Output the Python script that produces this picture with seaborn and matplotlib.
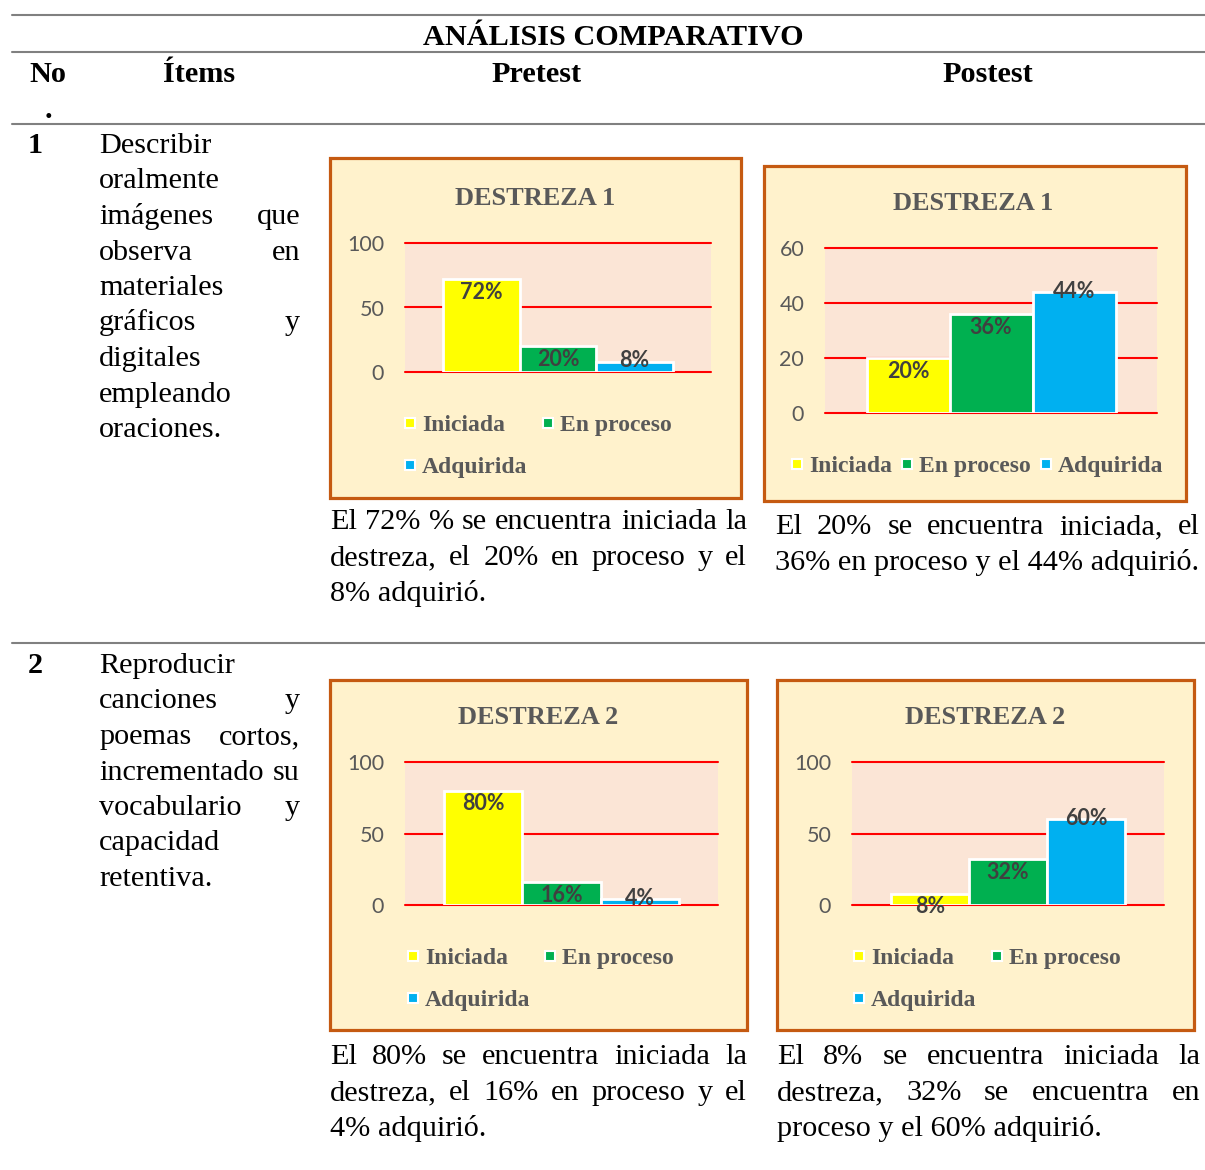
import numpy as np
import pandas as pd
import seaborn as sns
import matplotlib.pyplot as plt
from matplotlib.lines import Line2D
from matplotlib.patches import Rectangle

# --- data ---
niveles = ["Iniciada", "En proceso", "Adquirida"]
colores = ["#FFFF00", "#00B050", "#00B0F0"]

pre_d1 = [72, 20, 8]
post_d1 = [20, 36, 44]
pre_d2 = [80, 16, 4]
post_d2 = [8, 32, 60]

ticks_100 = [0, 50, 100]
ticks_60 = [0, 20, 40, 60]

item1 = ["Describir", "oralmente", "imágenes que", "observa en", "materiales",
         "gráficos y", "digitales", "empleando", "oraciones."]
item2 = ["Reproducir", "canciones y", "poemas cortos,", "incrementado su",
         "vocabulario y", "capacidad", "retentiva."]

txt_pre1 = ["El 72%  % se encuentra iniciada la", "destreza, el 20% en proceso y el", "8% adquirió."]
txt_post1 = ["El 20% se encuentra iniciada, el", "36% en proceso y el 44% adquirió."]
txt_pre2 = ["El 80% se encuentra iniciada la", "destreza, el 16% en proceso y el", "4% adquirió."]
txt_post2 = ["El 8% se encuentra iniciada la", "destreza, 32% se encuentra en", "proceso y el 60% adquirió."]

W, H = 1205, 1170
SERIF = "Liberation Serif"
SANS = "Lato"
BODY = 21.8

sns.set_theme(style="white")
plt.rcParams["font.family"] = [SERIF, "DejaVu Sans"]

fig = plt.figure(figsize=(W / 100, H / 100), dpi=100)
fig.patch.set_facecolor("white")
rend = fig.canvas.get_renderer()


def fx(x):
    return x / W


def fy(y):
    return 1 - y / H


def put_line(text, x0, x1, base, justify, size=BODY, weight="normal"):
    words = text.split()
    if not justify or len(words) == 1:
        fig.text(fx(x0), fy(base), text, ha="left", va="baseline",
                 fontsize=size, family=SERIF, weight=weight, color="black")
        return
    objs = [fig.text(0, fy(base), w, ha="left", va="baseline", fontsize=size,
                     family=SERIF, weight=weight, color="black") for w in words]
    widths = [o.get_window_extent(renderer=rend).width for o in objs]
    gap = (x1 - x0 - sum(widths)) / (len(words) - 1)
    x = x0
    for o, w in zip(objs, widths):
        o.set_x(fx(x))
        x += w + gap


def paragraph(lines, x0, x1, base0, step):
    for i, ln in enumerate(lines):
        put_line(ln, x0, x1, base0 + i * step, justify=(i < len(lines) - 1))


# --- table rules ---
for yy in [15, 51.5, 124, 643]:
    fig.add_artist(Line2D([fx(12), fx(1205)], [fy(yy), fy(yy)], color="#808080", lw=1.5))

# --- header ---
hdr = dict(va="baseline", fontsize=BODY, family=SERIF, weight="bold", color="black")
fig.text(fx(613), fy(45), "ANÁLISIS COMPARATIVO", ha="center", **hdr)
fig.text(fx(29), fy(82), "No", ha="left", **hdr)
fig.text(fx(48), fy(117.5), ".", ha="center", **hdr)
fig.text(fx(199), fy(82), "Ítems", ha="center", **hdr)
fig.text(fx(536.5), fy(82), "Pretest", ha="center", **hdr)
fig.text(fx(987.5), fy(82), "Postest", ha="center", **hdr)
fig.text(fx(28), fy(153), "1", ha="left", **hdr)
fig.text(fx(28), fy(673), "2", ha="left", **hdr)

paragraph(item1, 99, 300, 153, 35.5)
paragraph(item2, 99, 300, 673, 35.5)

# --- charts ---
charts = [
    dict(vals=pre_d1, ticks=ticks_100, frame=(328, 157, 742, 499), plot=(405, 243, 711, 372),
         title="DESTREZA 1", tpos=(535, 205),
         leg=[(410, 431), (548, 431), (410, 473)],
         text=txt_pre1, tbox=(330, 747, 529)),
    dict(vals=post_d1, ticks=ticks_60, frame=(762, 164, 1187, 502), plot=(825, 248, 1157, 413),
         title="DESTREZA 1", tpos=(973, 210),
         leg=[(797, 472), (907, 472), (1046, 472)],
         text=txt_post1, tbox=(775, 1200, 534)),
    dict(vals=pre_d2, ticks=ticks_100, frame=(328, 678, 748, 1031), plot=(405, 762, 718, 905),
         title="DESTREZA 2", tpos=(538, 724),
         leg=[(413, 964), (550, 964), (413, 1006)],
         text=txt_pre2, tbox=(330, 747, 1064)),
    dict(vals=post_d2, ticks=ticks_100, frame=(775, 678, 1195, 1031), plot=(852, 762, 1164, 905),
         title="DESTREZA 2", tpos=(985, 724),
         leg=[(859, 964), (997, 964), (859, 1006)],
         text=txt_post2, tbox=(777, 1200, 1064)),
]

for c in charts:
    x0, y0, x1, y1 = c["frame"]
    fig.add_artist(Rectangle((fx(x0 + 1.5), fy(y1 - 1.5)), (x1 - x0 - 3) / W, (y1 - y0 - 3) / H,
                             transform=fig.transFigure, facecolor="#FFF2CC",
                             edgecolor="#C55A11", lw=2.3, zorder=0))

    px0, py0, px1, py1 = c["plot"]
    ax = fig.add_axes([fx(px0), fy(py1), (px1 - px0) / W, (py1 - py0) / H])
    ax.set_facecolor("#FBE5D6")

    df = pd.DataFrame({"grupo": ["D"] * 3, "nivel": niveles, "valor": c["vals"]})
    sns.barplot(data=df, x="grupo", y="valor", hue="nivel", hue_order=niveles,
                palette=colores, saturation=1, width=0.75, gap=0,
                edgecolor="white", linewidth=2, legend=False, ax=ax, zorder=3)

    ax.set_xlim(-0.5, 0.5)
    ax.set_ylim(0, c["ticks"][-1])
    ax.set_yticks(c["ticks"])
    ax.set_xticks([])
    ax.set_xlabel("")
    ax.set_ylabel("")
    ax.grid(axis="y", color="#FF0000", lw=1.5)
    ax.set_axisbelow(True)
    for gl in ax.get_ygridlines():
        gl.set_clip_on(False)
    for s in ax.spines.values():
        s.set_visible(False)
    ax.tick_params(axis="y", length=0, pad=15, labelsize=15.5, labelcolor="#595959")
    for lab in ax.get_yticklabels():
        lab.set_family(SANS)

    for i, cont in enumerate(ax.containers):
        ax.bar_label(cont, labels=[f"{v}%" for v in cont.datavalues.astype(int)],
                     padding=(-7 if i == 2 else -17), fontsize=15.5, fontweight="bold",
                     family=SANS, color="#404040", zorder=5)

    tx, ty = c["tpos"]
    fig.text(fx(tx), fy(ty), c["title"], ha="center", va="baseline", fontsize=19,
             family=SERIF, weight="bold", color="#595959")

    for (mx, my), name, col in zip(c["leg"], niveles, colores):
        fig.add_artist(Line2D([fx(mx)], [fy(my - 8)], marker="s", ms=7.5, color=col,
                              mec="white", mew=1.5, transform=fig.transFigure))
        fig.text(fx(mx + 12), fy(my), name, ha="left", va="baseline", fontsize=17,
                 family=SERIF, weight="bold", color="#595959")

    bx0, bx1, bb = c["tbox"]
    paragraph(c["text"], bx0, bx1, bb, 36)

fig.savefig("out.png", dpi=100, facecolor="white")
